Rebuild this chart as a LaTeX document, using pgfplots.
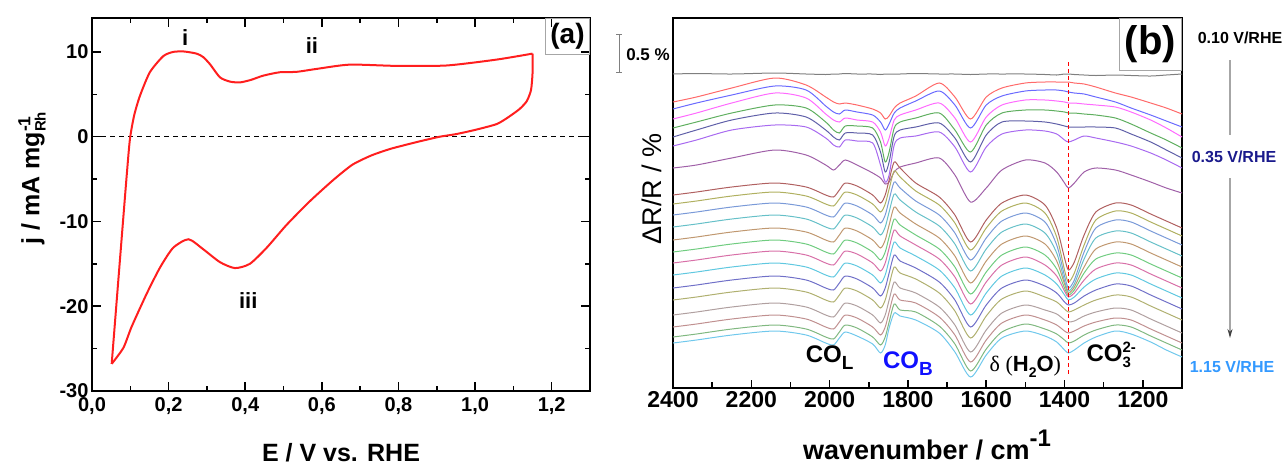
\documentclass[border=0pt]{standalone}
\usepackage{pgfplots}
\pgfplotsset{compat=1.18}
\usepackage{pgfplotstable}
\usepackage{amsmath}
\usepackage{fontspec}
\setmainfont{Liberation Sans}
\newfontfamily\seriffont{Liberation Serif}
\usetikzlibrary{arrows.meta}

\definecolor{cvred}{HTML}{FF1E1E}
\definecolor{c0}{HTML}{7F7F7F}
\definecolor{c1}{HTML}{FF6A6A}
\definecolor{c2}{HTML}{6A6AFF}
\definecolor{c3}{HTML}{FF6AFF}
\definecolor{c4}{HTML}{5FAF5F}
\definecolor{c5}{HTML}{5F5FA8}
\definecolor{c6}{HTML}{A86AF0}
\definecolor{c7}{HTML}{A060A8}
\definecolor{d1}{HTML}{B06060}
\definecolor{d2}{HTML}{B0B060}
\definecolor{d3}{HTML}{7A9AD8}
\definecolor{d4}{HTML}{66C0C8}
\definecolor{d5}{HTML}{C09870}
\definecolor{d6}{HTML}{70CC80}
\definecolor{d7}{HTML}{D870A8}
\definecolor{d8}{HTML}{60C8E0}
\definecolor{d9}{HTML}{7070C8}
\definecolor{d10}{HTML}{B0B070}
\definecolor{d11}{HTML}{B0A0A0}
\definecolor{d12}{HTML}{C09090}
\definecolor{d13}{HTML}{80B880}
\definecolor{d14}{HTML}{70C8EC}
\definecolor{navylab}{HTML}{1A1A8C}
\definecolor{skylab}{HTML}{3399FF}
\definecolor{coblue}{HTML}{1010FF}

% spectra: offset traces, y read in picture rows (down = larger)
\pgfplotstableread{
x g r b m G n v p B1 B2 B3 B4 B5 B6 B7 B8 B9 B10 B11 B12 B13 B14
2400 74 102 109 119 128 137 146 168 195 204 215 227 240 252 263 275 288 300 315 327 337 343
2340 73.5 97 103 113 122 130 140 165 192 201 212 224 237 249 260 272 285 297 312 324 334 340
2250 74 88 95 103 113 120 130 158 187 196 207 219 232 244 255 267 280 292 307 319 329 335
2140 73 78 86 93 105 113 125 150 183 192 203 215 228 240 251 263 276 288 303 315 325 331
2060 74 85 90 98 108 117 127 155 187 196 207 219 232 244 255 267 280 292 307 319 329 335
2010 74.5 97 106 114 122 130 138 165 195 204 215 227 240 252 263 275 288 300 315 327 337 343
1990 74 102 112 120 130 137 145 170 197 206 217 229 242 254 265 277 290 302 317 329 339 345
1975 74 104 114 122 133 140 147 165 190 199 210 222 235 247 258 270 283 295 310 322 332 338
1960 73.5 103 110 118 126 133 140 160 183 192 203 215 228 240 251 263 276 288 303 315 325 332
1930 74 105 112 120 126 133 141 165 186 195 206 218 231 243 254 266 279 291 306 318 328 336
1890 74 109 115 122 128 135 143 173 195 204 215 227 240 252 263 275 288 300 315 327 337 344
1870 74.5 113 122 132 142 152 165 178 203 212 223 235 248 260 271 283 296 308 323 335 345 353
1858 74 119 130 146 162 172 182 184 195 204 215 227 240 252 263 275 288 300 315 327 337 345
1848 74 116 124 138 152 162 175 182 180 189 200 212 225 237 248 260 273 285 300 312 322 328
1835 74 108 113 120 128 136 145 172 162 171 182 194 207 219 230 242 255 267 282 294 304 313
1820 74 103 108 115 122 130 138 167 168 177 188 200 213 225 236 248 261 273 288 300 310 316
1780 73.5 96 101 110 118 127 136 163 183 191 201 212 224 235 245 256 268 279 293 303 312 320
1720 74 83 91 103 113 123 132 158 197 205 215 226 238 249 259 270 282 293 307 317 326 333
1680 74 97 105 118 130 138 147 175 215 223 233 244 256 267 277 288 300 311 325 335 344 352
1640 74.5 119 128 142 152 162 172 202 242 250 260 271 283 294 304 315 327 338 352 362 371 377
1600 74 97 105 117 125 135 147 188 220 228 238 249 261 272 282 293 305 316 330 340 349 355
1560 74 88 96 105 113 122 134 170 203 211 221 232 244 255 265 276 288 299 313 323 332 338
1500 74 83 91 100 110 121 130 160 195 203 213 224 236 247 257 268 280 291 305 315 324 331
1450 74.5 82 90 100 110 122 131 163 205 213 222 233 244 255 265 275 286 297 310 320 329 336
1420 75 82 90 101 111 124 134 172 228 237 245 253 261 269 276 284 293 302 314 325 334 342
1400 74 82 91 102 112 126 140 183 258 270 276 281 284 288 291 295 302 309 320 331 340 350
1390 74 82 92 103 113 127 142 188 270 282 288 291 293 295 297 300 305 312 322 333 343 353
1375 74.5 83 93 103 113 127 140 183 262 273 280 284 287 290 293 297 303 310 321 331 341 350
1350 75 84 94 104 114 127 136 172 235 245 252 259 267 273 280 287 296 305 316 326 335 343
1320 75.5 87 97 105 115 127 138 168 212 220 228 238 249 259 269 279 290 300 312 322 330 337
1270 75 93 102 107 118 128 142 170 203 211 220 231 242 253 263 273 284 295 308 318 325 331
1230 75.5 97 108 112 124 134 146 175 205 213 222 233 244 255 265 275 286 297 310 320 327 334
1180 76 103 115 120 133 142 153 182 214 222 231 242 253 264 274 284 295 306 319 329 336 342
1140 75 108 121 128 140 150 160 188 221 229 238 249 260 271 281 291 302 313 326 336 343 350
1100 74 114 127 137 148 158 168 193 228 236 245 256 267 278 288 298 309 320 333 343 350 357
}\spectra

\begin{document}
\begin{tikzpicture}
\useasboundingbox (0pt,0pt) rectangle (1283pt,-466pt);

% ---------- panel (a): CV ----------
\begin{axis}[
  at={(92pt,-391pt)}, anchor=south west,
  scale only axis, width=498pt, height=373pt,
  xmin=0, xmax=1.3, ymin=-30, ymax=14,
  xtick={0,0.2,0.4,0.6,0.8,1.0,1.2},
  xticklabels={{0,0},{0,2},{0,4},{0,6},{0,8},{1,0},{1,2}},
  ytick={-30,-20,-10,0,10},
  minor x tick num=1, minor y tick num=1,
  xtick pos=both, ytick pos=both,
  tick align=inside,
  major tick length=9pt, minor tick length=5pt,
  every tick/.style={black, line width=1.6pt},
  axis line style={line width=2pt},
  /pgf/number format/assume math mode=true,
  tick label style={font=\bfseries\fontsize{20}{22}\selectfont},
  xticklabel style={yshift=-3pt},
  clip=false,
]
\draw[black, line width=1pt, dash pattern=on 5pt off 4pt] (0,0) -- (1.3,0);
\addplot[cvred, line width=2pt, smooth, tension=0.4] coordinates {
  (0.0514,-26.8) (0.07,-16.2) (0.09,-4.9) (0.099,-0.3) (0.11,2.5)
  (0.125,4.8) (0.151,7.6) (0.186,9.5) (0.212,10.0) (0.24,10.05)
  (0.273,9.8) (0.29,9.4) (0.308,8.55) (0.334,7.0) (0.36,6.5)
  (0.386,6.4) (0.415,6.7) (0.447,7.2) (0.49,7.6) (0.534,7.65)
  (0.587,8.0) (0.673,8.5) (0.796,8.35) (0.926,8.4) (1.057,9.1)
  (1.15,9.8)};
\addplot[cvred, line width=2pt, smooth, tension=0.4] coordinates {
  (1.150,9.8) (1.150,7.5) (1.146,5.5) (1.135,4.2) (1.117,3.3)
  (1.09,2.4) (1.057,1.5) (1.0,0.8) (0.95,0.3) (0.908,0)
  (0.86,-0.5) (0.82,-0.95) (0.778,-1.45) (0.73,-2.2) (0.68,-3.3)
  (0.63,-5.1) (0.569,-7.6) (0.508,-10.4) (0.456,-13.1) (0.412,-15.0)
  (0.373,-15.5) (0.334,-14.8) (0.291,-13.3) (0.252,-12.1) (0.212,-13.1)
  (0.178,-15.4) (0.143,-18.5) (0.1036,-22.4) (0.082,-24.9) (0.0514,-26.8)};
\node[font=\bfseries\fontsize{22}{24}\selectfont] at (0.243,11.7) {i};
\node[font=\bfseries\fontsize{22}{24}\selectfont] at (0.574,10.8) {ii};
\node[font=\bfseries\fontsize{22}{24}\selectfont] at (0.408,-19.3) {iii};
\node[draw=black!35, line width=1pt, anchor=north east, minimum width=44pt,
      minimum height=36pt, inner sep=2pt,
      font=\bfseries\fontsize{28}{30}\selectfont] at (rel axis cs:1,1) {(a)};
\end{axis}

% ---------- panel (b): spectra ----------
\begin{axis}[
  at={(673pt,-388pt)}, anchor=south west,
  scale only axis, width=509pt, height=370pt,
  x dir=reverse, xmin=1100, xmax=2400,
  y dir=reverse, ymin=18, ymax=388,
  xtick={1200,1400,1600,1800,2000,2200,2400},
  minor x tick num=1,
  xtick pos=bottom, ytick=\empty,
  tick align=inside,
  major tick length=8pt, minor tick length=6pt,
  every tick/.style={black, line width=1.6pt},
  axis line style={line width=2pt},
  /pgf/number format/assume math mode=true,
  /pgf/number format/set thousands separator={},
  tick label style={font=\bfseries\fontsize{23}{25}\selectfont},
  every axis plot/.append style={line width=1pt, smooth, tension=0.45},
  clip=false,
]
\addplot[c0] table[x=x, y=g] {\spectra};
\addplot[c1] table[x=x, y=r] {\spectra};
\addplot[c2] table[x=x, y=b] {\spectra};
\addplot[c3] table[x=x, y=m] {\spectra};
\addplot[c4] table[x=x, y=G] {\spectra};
\addplot[c5] table[x=x, y=n] {\spectra};
\addplot[c6] table[x=x, y=v] {\spectra};
\addplot[c7] table[x=x, y=p] {\spectra};
\addplot[d1] table[x=x, y=B1] {\spectra};
\addplot[d2] table[x=x, y=B2] {\spectra};
\addplot[d3] table[x=x, y=B3] {\spectra};
\addplot[d4] table[x=x, y=B4] {\spectra};
\addplot[d5] table[x=x, y=B5] {\spectra};
\addplot[d6] table[x=x, y=B6] {\spectra};
\addplot[d7] table[x=x, y=B7] {\spectra};
\addplot[d8] table[x=x, y=B8] {\spectra};
\addplot[d9] table[x=x, y=B9] {\spectra};
\addplot[d10] table[x=x, y=B10] {\spectra};
\addplot[d11] table[x=x, y=B11] {\spectra};
\addplot[d12] table[x=x, y=B12] {\spectra};
\addplot[d13] table[x=x, y=B13] {\spectra};
\addplot[d14] table[x=x, y=B14] {\spectra};
\draw[red, line width=1pt, dash pattern=on 4pt off 3pt] (1390,62) -- (1390,376);
\node[draw=black!35, line width=1pt, anchor=north east, minimum width=62pt,
      minimum height=52pt, inner sep=2pt,
      font=\bfseries\fontsize{40}{42}\selectfont] at (rel axis cs:1,1) {(b)};
\node[font=\bfseries\fontsize{24}{26}\selectfont] at (2000,358)
  {CO\raisebox{-0.3em}{\fontsize{19}{20}\selectfont L}};
\node[font=\bfseries\fontsize{24}{26}\selectfont, text=coblue] at (1800,364)
  {CO\raisebox{-0.3em}{\fontsize{19}{20}\selectfont B}};
\node[font=\bfseries\fontsize{22}{24}\selectfont] at (1500,367)
  {{\seriffont\mdseries δ (}H\raisebox{-0.3em}{\fontsize{14}{14}\selectfont 2}O{\seriffont\mdseries )}};
\node[font=\bfseries\fontsize{24}{26}\selectfont, inner sep=1pt] at (1280,355)
  {CO$^{\text{\fontsize{15}{15}\selectfont 2-}}_{\text{\fontsize{15}{15}\selectfont 3}}$};
\end{axis}

% labels outside the axes
\node[font=\bfseries\fontsize{25}{28}\selectfont] at (341pt,-453pt) {E / V vs. RHE};
\node[font=\bfseries\fontsize{25}{28}\selectfont, rotate=90] at (32pt,-178pt)
  {j / mA mg$^{\text{-1}}_{\text{\fontsize{15}{15}\selectfont Rh}}$};
\node[font=\bfseries\fontsize{27}{30}\selectfont] at (927pt,-445pt)
  {wavenumber / cm\raisebox{0.45em}{\fontsize{24}{26}\selectfont -1}};
\node[font=\fontsize{27}{30}\selectfont, rotate=90] at (652pt,-189pt) {ΔR/R / \%};

\draw[black!50, line width=1pt] (619pt,-34pt) -- (619pt,-72pt);
\draw[black!50, line width=1pt] (616pt,-34pt) -- (622pt,-34pt);
\draw[black!50, line width=1pt] (616pt,-72pt) -- (622pt,-72pt);
\node[font=\bfseries\fontsize{17}{19}\selectfont] at (648pt,-55pt) {0.5 \%};

\node[font=\bfseries\fontsize{16}{18}\selectfont] at (1240pt,-38pt) {0.10 V/RHE};
\draw[black!35, line width=1.2pt] (1230pt,-60pt) -- (1230pt,-135pt);
\node[font=\bfseries\fontsize{16}{18}\selectfont, text=navylab] at (1234pt,-157pt) {0.35 V/RHE};
\draw[black!35, line width=1.2pt, -{Stealth[length=9pt,width=5pt,black!75]}]
  (1230pt,-178pt) -- (1230pt,-338pt);
\node[font=\bfseries\fontsize{16}{18}\selectfont, text=skylab] at (1232pt,-367pt) {1.15 V/RHE};
\end{tikzpicture}
\end{document}
